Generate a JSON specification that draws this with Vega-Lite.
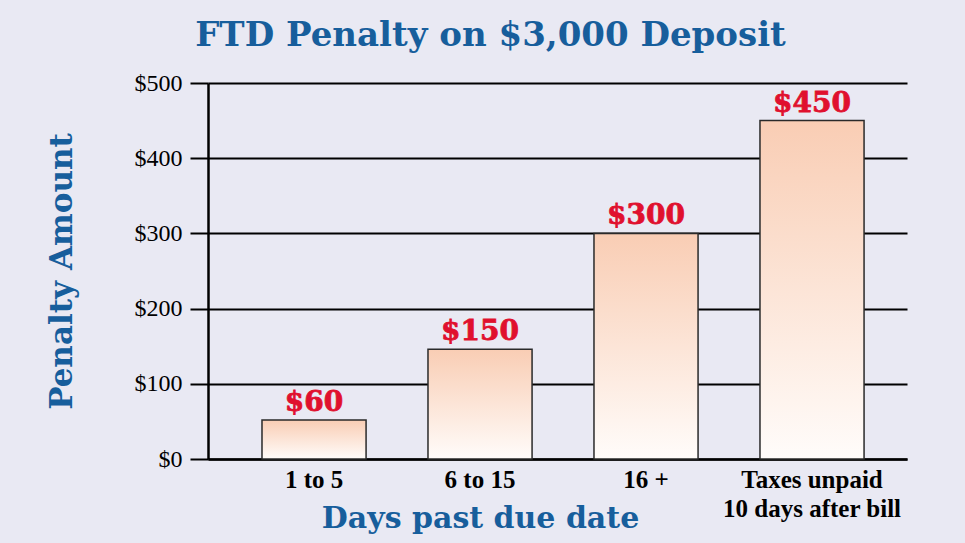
{
  "$schema": "https://vega.github.io/schema/vega-lite/v6.json",
  "width": 699,
  "height": 376,
  "autosize": {"type": "none"},
  "padding": {"left": 208, "top": 83, "right": 58, "bottom": 84},
  "background": "#e9e9f3",
  "config": {"view": {"stroke": null}},
  "title": {
    "text": "FTD Penalty on $3,000 Deposit",
    "font": "DejaVu Serif",
    "fontWeight": "bold",
    "fontSize": 34,
    "color": "#175e9c",
    "anchor": "middle",
    "frame": "group",
    "dx": -67,
    "offset": 18
  },
  "data": {
    "values": [
      {"days": "1 to 5", "amount": 52, "label": "$60"},
      {"days": "6 to 15", "amount": 146, "label": "$150"},
      {"days": "16 +", "amount": 300, "label": "$300"},
      {"days": "Taxes unpaid\n10 days after bill", "amount": 450, "label": "$450"}
    ]
  },
  "encoding": {
    "x": {
      "field": "days",
      "type": "nominal",
      "sort": null,
      "scale": {"paddingInner": 0.373, "paddingOuter": 0.292, "align": 0.557},
      "axis": {
        "title": "Days past due date",
        "titleFont": "DejaVu Serif",
        "titleFontWeight": "bold",
        "titleFontSize": 30,
        "titleColor": "#175e9c",
        "titleX": 272,
        "titleY": 59,
        "titleAlign": "center",
        "titleBaseline": "middle",
        "labelAngle": 0,
        "labelFont": "Liberation Serif",
        "labelFontWeight": "bold",
        "labelFontSize": 25,
        "labelColor": "#000000",
        "labelPadding": 8,
        "labelLineHeight": 29,
        "labelExpr": "split(datum.value, '\\n')",
        "ticks": false,
        "domainColor": "#000000",
        "domainWidth": 2.5
      }
    },
    "y": {
      "field": "amount",
      "type": "quantitative",
      "scale": {"domain": [0, 500], "nice": false},
      "axis": {
        "title": "Penalty Amount",
        "titleFont": "DejaVu Serif",
        "titleFontWeight": "bold",
        "titleFontSize": 31,
        "titleColor": "#175e9c",
        "titleAngle": -90,
        "titleX": -146,
        "titleY": 188,
        "titleAlign": "center",
        "titleBaseline": "middle",
        "values": [0, 100, 200, 300, 400, 500],
        "labelExpr": "'$' + datum.value",
        "labelFont": "Liberation Serif",
        "labelFontSize": 24,
        "labelColor": "#000000",
        "labelPadding": 8,
        "tickSize": 18,
        "tickColor": "#000000",
        "tickWidth": 2,
        "domainColor": "#000000",
        "domainWidth": 2.5,
        "grid": true,
        "gridColor": "#000000",
        "gridWidth": 2,
        "gridOpacity": 1
      }
    }
  },
  "layer": [
    {
      "mark": {
        "type": "bar",
        "stroke": "#2a2a2a",
        "strokeWidth": 1.5,
        "color": {
          "gradient": "linear",
          "x1": 0, "y1": 0, "x2": 0, "y2": 1,
          "stops": [
            {"offset": 0, "color": "#f9cdb4"},
            {"offset": 1, "color": "#fffcfa"}
          ]
        }
      }
    },
    {
      "mark": {
        "type": "text",
        "font": "DejaVu Serif",
        "fontWeight": "bold",
        "fontSize": 28,
        "color": "#e0102e",
        "stroke": "#e0102e",
        "strokeWidth": 0.8,
        "baseline": "alphabetic",
        "dy": -9
      },
      "encoding": {"text": {"field": "label"}}
    }
  ]
}
